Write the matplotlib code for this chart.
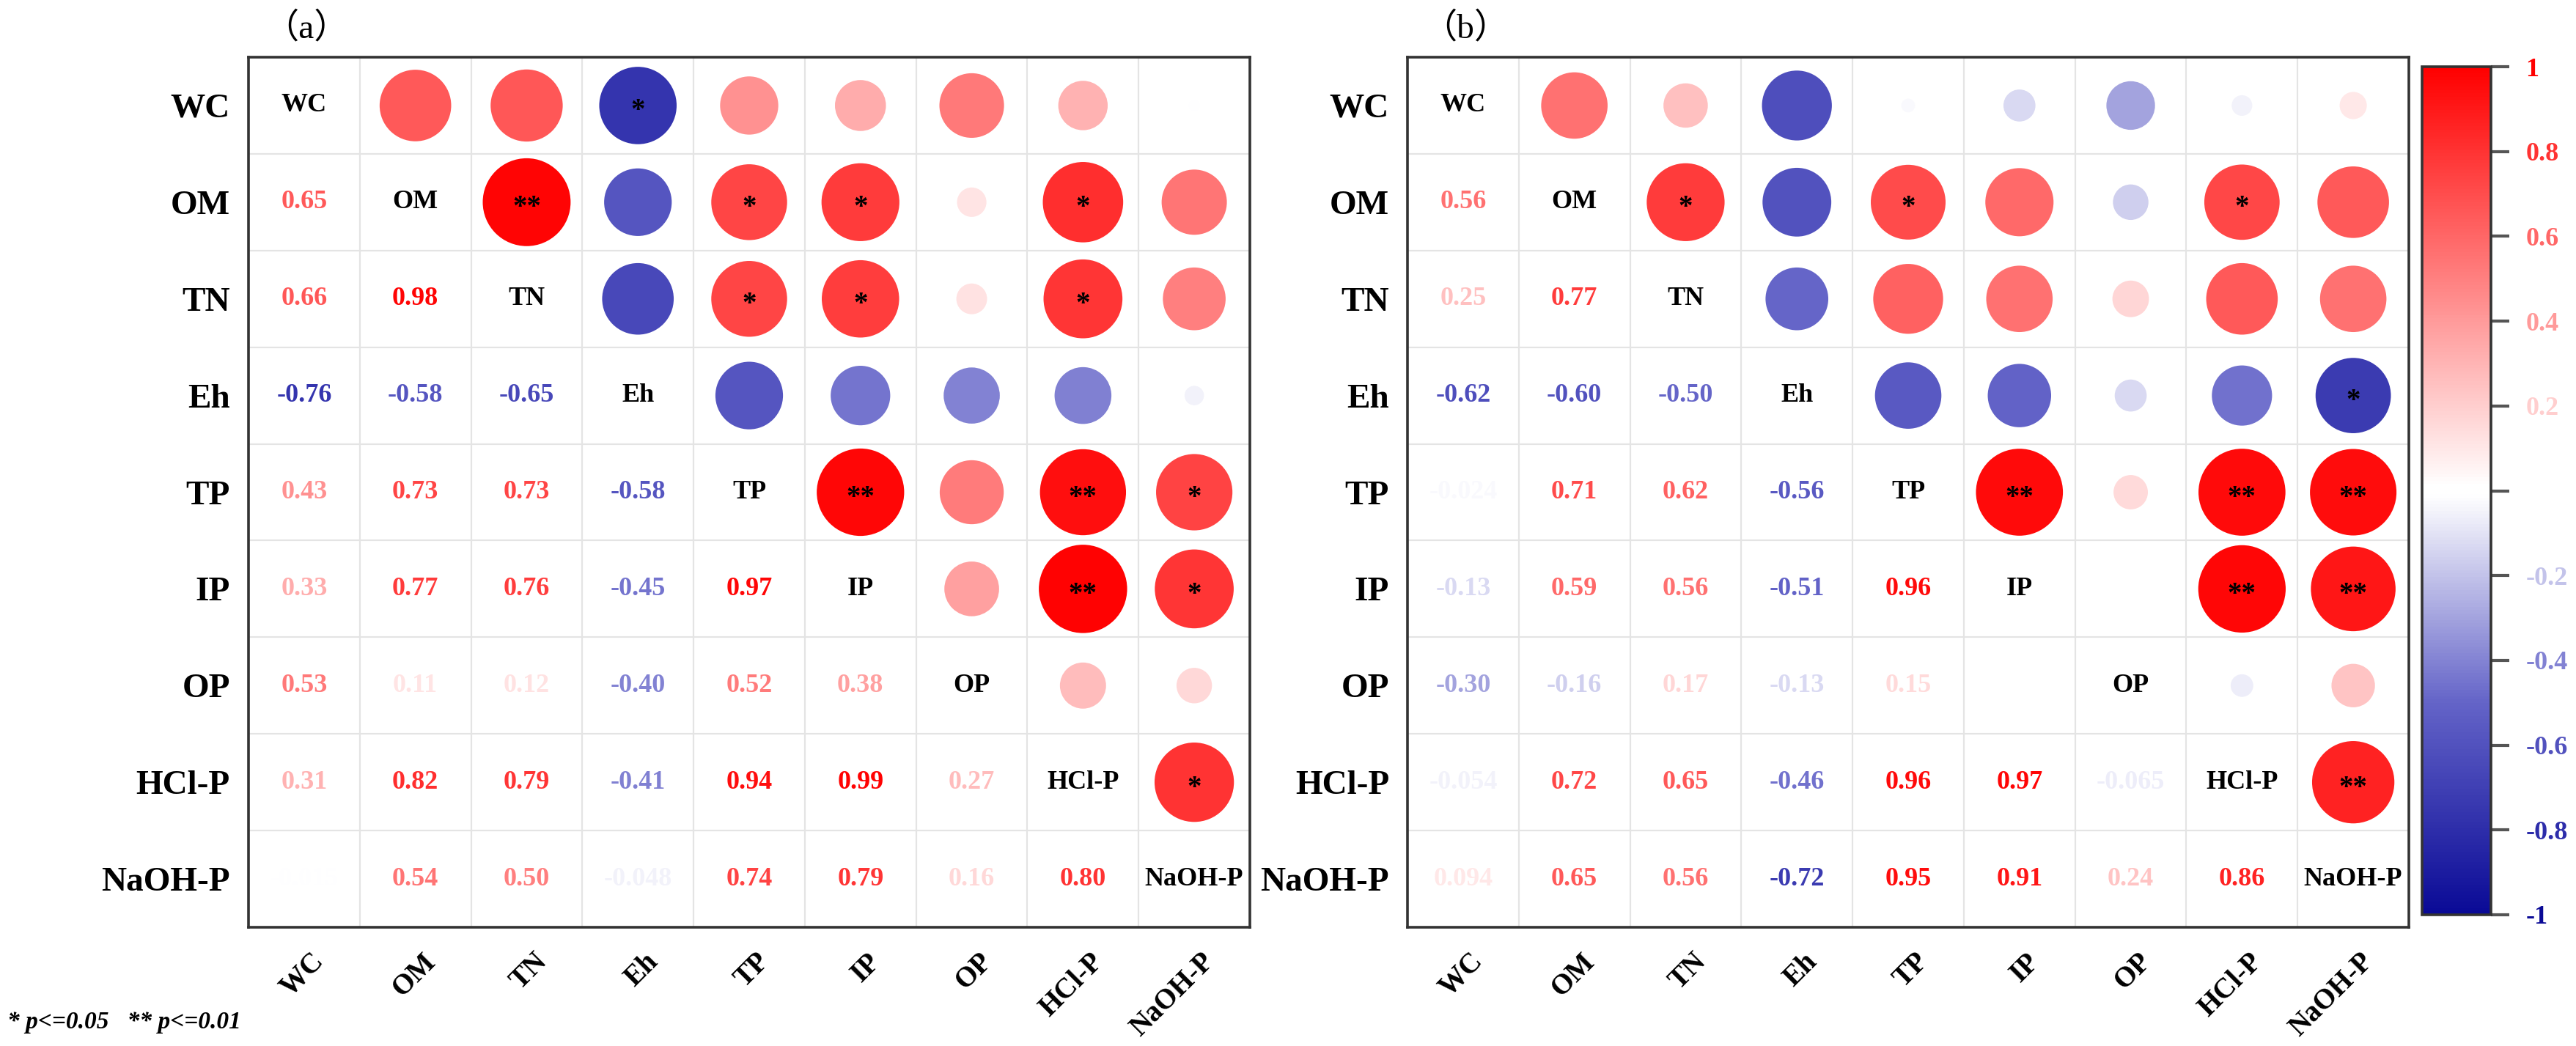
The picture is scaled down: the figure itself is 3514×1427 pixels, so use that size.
import numpy as np
import matplotlib
matplotlib.use('Agg')
import matplotlib.pyplot as plt
from matplotlib.colors import LinearSegmentedColormap, Normalize
from matplotlib.transforms import ScaledTranslation

plt.rcParams['font.family'] = ['Liberation Serif', 'DejaVu Serif']

# ---- data -------------------------------------------------------------------
variables = ['WC', 'OM', 'TN', 'Eh', 'TP', 'IP', 'OP', 'HCl-P', 'NaOH-P']

# lower triangle, one list per row (OM ... NaOH-P), columns from WC onward
corr_a = [
    [0.65],
    [0.66, 0.98],
    [-0.76, -0.58, -0.65],
    [0.43, 0.73, 0.73, -0.58],
    [0.33, 0.77, 0.76, -0.45, 0.97],
    [0.53, 0.11, 0.12, -0.40, 0.52, 0.38],
    [0.31, 0.82, 0.79, -0.41, 0.94, 0.99, 0.27],
    [-0.015, 0.54, 0.50, -0.048, 0.74, 0.79, 0.16, 0.80],
]
corr_b = [
    [0.56],
    [0.25, 0.77],
    [-0.62, -0.60, -0.50],
    [-0.024, 0.71, 0.62, -0.56],
    [-0.13, 0.59, 0.56, -0.51, 0.96],
    [-0.30, -0.16, 0.17, -0.13, 0.15, 0.0],
    [-0.054, 0.72, 0.65, -0.46, 0.96, 0.97, -0.065],
    [0.094, 0.65, 0.56, -0.72, 0.95, 0.91, 0.24, 0.86],
]

# significance marks (row variable, column variable, mark)
sig_a = [('WC', 'Eh', '*'), ('OM', 'TN', '**'), ('OM', 'TP', '*'), ('OM', 'IP', '*'),
         ('OM', 'HCl-P', '*'), ('TN', 'TP', '*'), ('TN', 'IP', '*'), ('TN', 'HCl-P', '*'),
         ('TP', 'IP', '**'), ('TP', 'HCl-P', '**'), ('TP', 'NaOH-P', '*'),
         ('IP', 'HCl-P', '**'), ('IP', 'NaOH-P', '*'), ('HCl-P', 'NaOH-P', '*')]
sig_b = [('OM', 'TN', '*'), ('OM', 'TP', '*'), ('OM', 'HCl-P', '*'), ('Eh', 'NaOH-P', '*'),
         ('TP', 'IP', '**'), ('TP', 'HCl-P', '**'), ('TP', 'NaOH-P', '**'),
         ('IP', 'HCl-P', '**'), ('IP', 'NaOH-P', '**'), ('HCl-P', 'NaOH-P', '**')]

cbar_ticks = [1, 0.8, 0.6, 0.4, 0.2, 0, -0.2, -0.4, -0.6, -0.8, -1]

# ---- colours ----------------------------------------------------------------
cmap = LinearSegmentedColormap.from_list(
    'bwr_corr',
    [(0.0, '#0A0A96'), (0.25, '#6464C8'), (0.495, '#FFFFFF'),
     (0.505, '#FFFFFF'), (1.0, '#FF0000')], N=256)
norm = Normalize(vmin=-1, vmax=1)


def full_matrix(lower):
    n = len(variables)
    m = np.eye(n)
    for i, row in enumerate(lower, start=1):
        for j, v in enumerate(row):
            m[i, j] = v
            m[j, i] = v
    return m


def fmt(v):
    if abs(v) >= 0.1 or v == 0:
        return f'{v:.2f}'
    return f'{v:.2g}'


def draw_panel(ax, lower, sig, title):
    n = len(variables)
    m = full_matrix(lower)
    rows, cols = np.triu_indices(n, 1)
    vals = m[rows, cols]
    sc = ax.scatter(cols + 0.5, rows + 0.5, s=1900 * np.abs(vals), c=vals,
                    cmap=cmap, norm=norm, linewidths=0, zorder=3)

    for a, b, mark in sig:
        i, j = variables.index(a), variables.index(b)
        ax.text(j + 0.5, i + 0.56, mark, ha='center', va='center',
                fontsize=14, fontweight='bold', color='black', zorder=4)

    for i in range(n):
        for j in range(i):
            v = m[i, j]
            ax.text(j + 0.5, i + 0.5, fmt(v), ha='center', va='center',
                    fontsize=13, fontweight='bold', color=cmap(norm(v)))
        ax.text(i + 0.5, i + 0.5, variables[i], ha='center', va='center',
                fontsize=13, fontweight='bold', color='black')

    ax.set_xlim(0, n)
    ax.set_ylim(n, 0)
    ax.set_xticks(np.arange(n + 1), minor=True)
    ax.set_yticks(np.arange(n + 1), minor=True)
    ax.grid(which='minor', color='#e4e4e4', lw=0.8)
    ax.set_axisbelow(True)

    ax.set_yticks(np.arange(n) + 0.5, variables, fontsize=17, fontweight='bold')
    ax.set_xticks(np.arange(n) + 0.5, variables, fontsize=14, fontweight='bold',
                  rotation=45, ha='right', va='center', rotation_mode='anchor')
    ax.tick_params(which='both', length=0)
    ax.tick_params(axis='y', pad=9)
    ax.tick_params(axis='x', pad=15)
    offset = ScaledTranslation(0.11, 0, ax.figure.dpi_scale_trans)
    for lbl in ax.get_xticklabels():
        lbl.set_transform(lbl.get_transform() + offset)

    for sp in ax.spines.values():
        sp.set_linewidth(1.3)
        sp.set_color('#333333')

    ax.text(0.058, 1.033, title, transform=ax.transAxes, ha='center', va='center',
            fontsize=17, family=['Liberation Serif', 'Noto Sans CJK SC'])
    return sc


W, H = 3514, 1427
fig = plt.figure(figsize=(W / 200, H / 200), dpi=200)

ax_a = fig.add_axes([339 / W, 1 - 1265 / H, 1366 / W, 1187 / H])
ax_b = fig.add_axes([1920 / W, 1 - 1265 / H, 1366 / W, 1187 / H])
cax = fig.add_axes([3304 / W, 1 - 1248 / H, 94 / W, 1157 / H])

draw_panel(ax_a, corr_a, sig_a, '（a）')
sc = draw_panel(ax_b, corr_b, sig_b, '（b）')

cb = fig.colorbar(sc, cax=cax)
cb.set_ticks(cbar_ticks)
cb.set_ticklabels(['' if t == 0 else f'{t:g}' for t in cbar_ticks])
cb.outline.set_linewidth(1.3)
cb.outline.set_edgecolor('#333333')
cax.tick_params(length=9, width=1.5, color='#555555', pad=8, labelsize=13)
for t, lbl in zip(cbar_ticks, cax.get_yticklabels()):
    lbl.set_fontweight('bold')
    lbl.set_color(cmap(norm(t)))

fig.text(10 / W, 1 - 1395 / H, '* p<=0.05   ** p<=0.01', fontsize=12,
         fontweight='bold', style='italic', va='center', ha='left')

fig.savefig('out.png', dpi=200, facecolor='white')
